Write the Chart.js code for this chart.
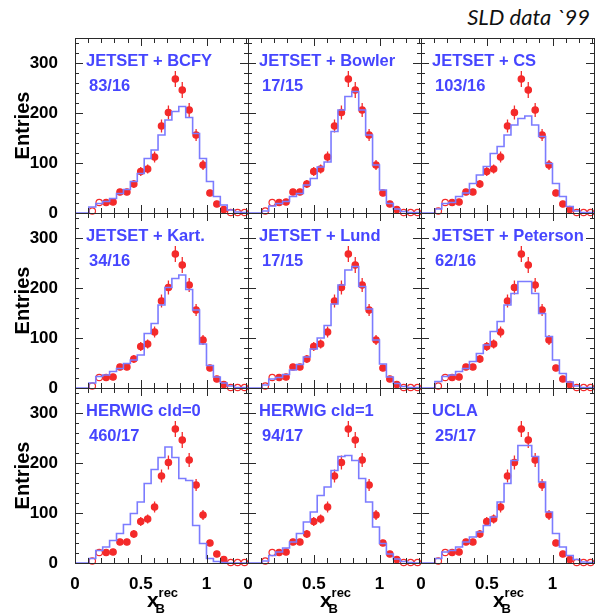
<!DOCTYPE html>
<html>
<head>
<meta charset="utf-8">
<title>SLD data `99</title>
<script src="https://cdn.jsdelivr.net/npm/chart.js@4.4.1/dist/chart.umd.min.js"></script>
<style>
  html, body { margin: 0; padding: 0; background: #fff; }
  #fig { position: relative; width: 599px; height: 615px; overflow: hidden; background: #fff; }
  #fig canvas { position: absolute; }
  #tag { position: absolute; right: 9px; top: 3px; font: italic 22px Lato, "Open Sans", sans-serif; color: #111; }
</style>
</head>
<body>
<div id="fig"><div id="tag">SLD data `99</div></div>
<script>
// x_B^rec histograms: 25 bins on [0, xMax]
const nBins = 25;
const xMax = 1.315;
const yMax = 350;

const xTickLabels = [0, 0.5, 1];
const yTickLabels = [0, 100, 200, 300];

// SLD data, bins 2..24 (bins 0 and 1 are empty)
const dataFirstBin = 2;
const dataEntries = [4, 21, 21, 22, 42, 42, 58, 83, 88, 112, 174, 201, 268, 246, 206, 156, 96, 40, 18, 7, 1, 1, 1];
const dataErrors  = [2, 5, 5, 5, 6, 6, 8, 9, 9, 11, 13, 14, 16, 16, 14, 12, 10, 6, 4, 3, 1, 1, 1];
// bins drawn with open markers
const dataOpen = [true, true, false, false, false, false, false, false, false, false, false, false,
                  false, false, false, false, false, false, false, false, true, true, true];

// MC predictions, all 25 bins
const mcBCFY     = [0, 0, 12, 19, 23, 29, 39, 47, 63, 79, 109, 126, 156, 186, 203, 213, 191, 159, 109, 63, 33, 16, 6, 2, 1];
const mcBowler   = [0, 0, 4, 14, 19, 23, 33, 39, 56, 69, 92, 102, 163, 206, 233, 243, 206, 156, 96, 46, 19, 8, 3, 1, 1];
const mcCS       = [0, 0, 8, 19, 21, 33, 40, 59, 76, 93, 119, 133, 156, 176, 189, 194, 176, 153, 99, 59, 33, 13, 4, 1, 1];
const mcKart     = [0, 0, 10, 23, 26, 33, 39, 49, 56, 66, 109, 129, 166, 201, 219, 226, 197, 156, 88, 45, 22, 10, 4, 1, 1];
const mcLund     = [0, 0, 6, 18, 21, 27, 36, 47, 62, 78, 100, 125, 168, 206, 236, 243, 203, 158, 96, 48, 22, 9, 3, 1, 1];
const mcPeterson = [0, 0, 13, 23, 26, 33, 39, 53, 69, 86, 113, 133, 166, 189, 213, 213, 189, 149, 103, 56, 29, 12, 4, 1, 1];
const mcHerwig0  = [0, 0, 9, 25, 32, 45, 59, 77, 99, 122, 159, 187, 211, 232, 211, 169, 165, 75, 39, 9, 3, 1, 0, 0, 0];
const mcHerwig1  = [0, 0, 4, 15, 22, 30, 42, 59, 82, 102, 135, 152, 185, 213, 215, 205, 169, 122, 72, 39, 18, 8, 3, 1, 0];
const mcUCLA     = [0, 0, 9, 22, 25, 32, 42, 52, 62, 75, 92, 122, 159, 205, 235, 235, 213, 162, 102, 59, 32, 15, 7, 2, 1];

const panelNames = ['JETSET + BCFY', 'JETSET + Bowler', 'JETSET + CS',
                    'JETSET + Kart.', 'JETSET + Lund', 'JETSET + Peterson',
                    'HERWIG cld=0', 'HERWIG cld=1', 'UCLA'];
const chi2Labels = ['83/16', '17/15', '103/16', '34/16', '17/15', '62/16', '460/17', '94/17', '25/17'];
const models = [mcBCFY, mcBowler, mcCS, mcKart, mcLund, mcPeterson, mcHerwig0, mcHerwig1, mcUCLA];

// colours
const dataColour = '#f42a2a';
const mcColour = '#7c7cff';
const labelColour = '#4646ff';
const frameColour = '#2a2a2a';

// panel grid
const colLeft = [75, 248, 421];
const rowTop = [38, 213, 388];
const panelW = 173;
const panelH = 175;
const margin = 22;   // room round each panel so tick-label padding never squeezes the plot area

const binWidth = xMax / nBins;
const binCentre = (i) => (i + 0.5) * binWidth;

// histogram as a step line: one point per left bin edge plus the closing edge
function stepPoints(values) {
  const pts = values.map((v, i) => ({ x: i * binWidth, y: v }));
  pts.push({ x: nBins * binWidth, y: values[values.length - 1] });
  return pts;
}

const dataPoints = dataEntries.map((v, i) => ({ x: binCentre(dataFirstBin + i), y: v }));

// frame, inward ticks, error bars and text for each panel
const panelFrame = {
  id: 'panelFrame',
  beforeDatasetDraw(chart, args) {
    if (args.index !== 1) return;
    const { ctx, scales: { x, y } } = chart;
    ctx.save();
    ctx.strokeStyle = dataColour;
    ctx.lineWidth = 1.3;
    dataEntries.forEach((v, i) => {
      const px = x.getPixelForValue(binCentre(dataFirstBin + i));
      ctx.beginPath();
      ctx.moveTo(px, y.getPixelForValue(Math.max(0, v - dataErrors[i])));
      ctx.lineTo(px, y.getPixelForValue(v + dataErrors[i]));
      ctx.stroke();
    });
    ctx.restore();
  },
  afterDraw(chart, args, opts) {
    const { ctx, chartArea: a, scales: { x, y } } = chart;
    ctx.save();
    ctx.strokeStyle = frameColour;
    ctx.lineWidth = 1;
    ctx.beginPath();
    for (let t = 0; t <= 1.3 + 1e-9; t += 0.1) {
      const major = Math.abs(t * 2 - Math.round(t * 2)) < 1e-6;
      const len = major ? 8 : 5;
      const px = Math.round(x.getPixelForValue(t)) + 0.5;
      ctx.moveTo(px, a.bottom); ctx.lineTo(px, a.bottom - len);
      ctx.moveTo(px, a.top); ctx.lineTo(px, a.top + len);
    }
    for (let v = 0; v <= yMax; v += 20) {
      const len = v % 100 === 0 ? 8 : 4;
      const py = Math.round(y.getPixelForValue(v)) + 0.5;
      ctx.moveTo(a.left, py); ctx.lineTo(a.left + len, py);
      ctx.moveTo(a.right, py); ctx.lineTo(a.right - len, py);
    }
    ctx.stroke();
    ctx.strokeRect(a.left + 0.5, a.top + 0.5, a.width, a.height);

    ctx.fillStyle = labelColour;
    ctx.font = 'bold 16.5px "Liberation Sans", Arial, sans-serif';
    ctx.textBaseline = 'alphabetic';
    ctx.fillText(opts.name, a.left + 11, a.top + 28);
    ctx.fillText(opts.chi2, a.left + 14, a.top + 53);

    if (opts.bottomRow) {
      // x_B^rec axis title
      ctx.fillStyle = '#000';
      ctx.font = 'bold 21px "Liberation Sans", Arial, sans-serif';
      const xw = ctx.measureText('x').width;
      ctx.font = 'bold 13px "Liberation Sans", Arial, sans-serif';
      const rw = ctx.measureText('rec').width;
      const x0 = (a.left + a.right) / 2 - (xw + rw) / 2 + 1;
      ctx.font = 'bold 21px "Liberation Sans", Arial, sans-serif';
      ctx.fillText('x', x0, a.bottom + 44);
      ctx.font = 'bold 13px "Liberation Sans", Arial, sans-serif';
      ctx.fillText('rec', x0 + xw, a.bottom + 34);
      ctx.fillText('B', x0 + xw - 3, a.bottom + 50);
    }
    ctx.restore();
  }
};

const tickFont = { family: '"Liberation Sans", Arial, sans-serif', size: 17, weight: 'bold' };
const fig = document.getElementById('fig');

function makePanel(k) {
  const row = Math.floor(k / 3);
  const col = k % 3;
  const axisW = col === 0 ? 75 : 0;
  const padL = col === 0 ? 0 : margin;
  const axisH = row === 2 ? 52 : 0;
  const padB = row === 2 ? 0 : margin;

  const canvas = document.createElement('canvas');
  canvas.width = padL + axisW + panelW + margin;
  canvas.height = margin + panelH + padB + axisH;
  canvas.style.left = (colLeft[col] - padL - axisW) + 'px';
  canvas.style.top = (rowTop[row] - margin) + 'px';
  fig.appendChild(canvas);

  return new Chart(canvas, {
    type: 'scatter',
    data: {
      datasets: [
        {
          data: stepPoints(models[k]),
          showLine: true,
          stepped: 'before',
          borderColor: mcColour,
          borderWidth: 1.6,
          pointRadius: 0,
          fill: false
        },
        {
          data: dataPoints,
          showLine: false,
          pointRadius: 3.2,
          pointBorderWidth: 1.2,
          pointBorderColor: dataColour,
          pointBackgroundColor: dataOpen.map(o => o ? '#ffffff' : dataColour),
          clip: false
        }
      ]
    },
    options: {
      responsive: false,
      animation: false,
      events: [],
      layout: { padding: { left: padL, right: margin, top: margin, bottom: padB } },
      plugins: {
        legend: { display: false },
        tooltip: { enabled: false },
        panelFrame: { name: panelNames[k], chi2: chi2Labels[k], bottomRow: row === 2 }
      },
      scales: {
        x: {
          type: 'linear',
          min: 0,
          max: xMax,
          display: row === 2,
          grid: { display: false },
          border: { display: false },
          afterBuildTicks: s => { s.ticks = xTickLabels.map(v => ({ value: v })); },
          afterFit: s => { s.height = axisH; },
          ticks: {
            font: tickFont, color: '#000', padding: 3,
            maxRotation: 0, autoSkip: false,
            callback: v => String(v)
          }
        },
        y: {
          type: 'linear',
          min: 0,
          max: yMax,
          display: col === 0,
          grid: { display: false },
          border: { display: false },
          afterBuildTicks: s => { s.ticks = yTickLabels.map(v => ({ value: v })); },
          afterFit: s => { s.width = axisW; },
          ticks: { font: tickFont, color: '#000', padding: 9, callback: v => String(v) },
          title: {
            display: true,
            text: 'Entries',
            color: '#000',
            font: { family: '"Liberation Sans", Arial, sans-serif', size: 20, weight: 'bold' },
            padding: { top: 11, bottom: 0 }
          }
        }
      }
    },
    plugins: [panelFrame]
  });
}

for (let k = 0; k < 9; k++) makePanel(k);
</script>
</body>
</html>
